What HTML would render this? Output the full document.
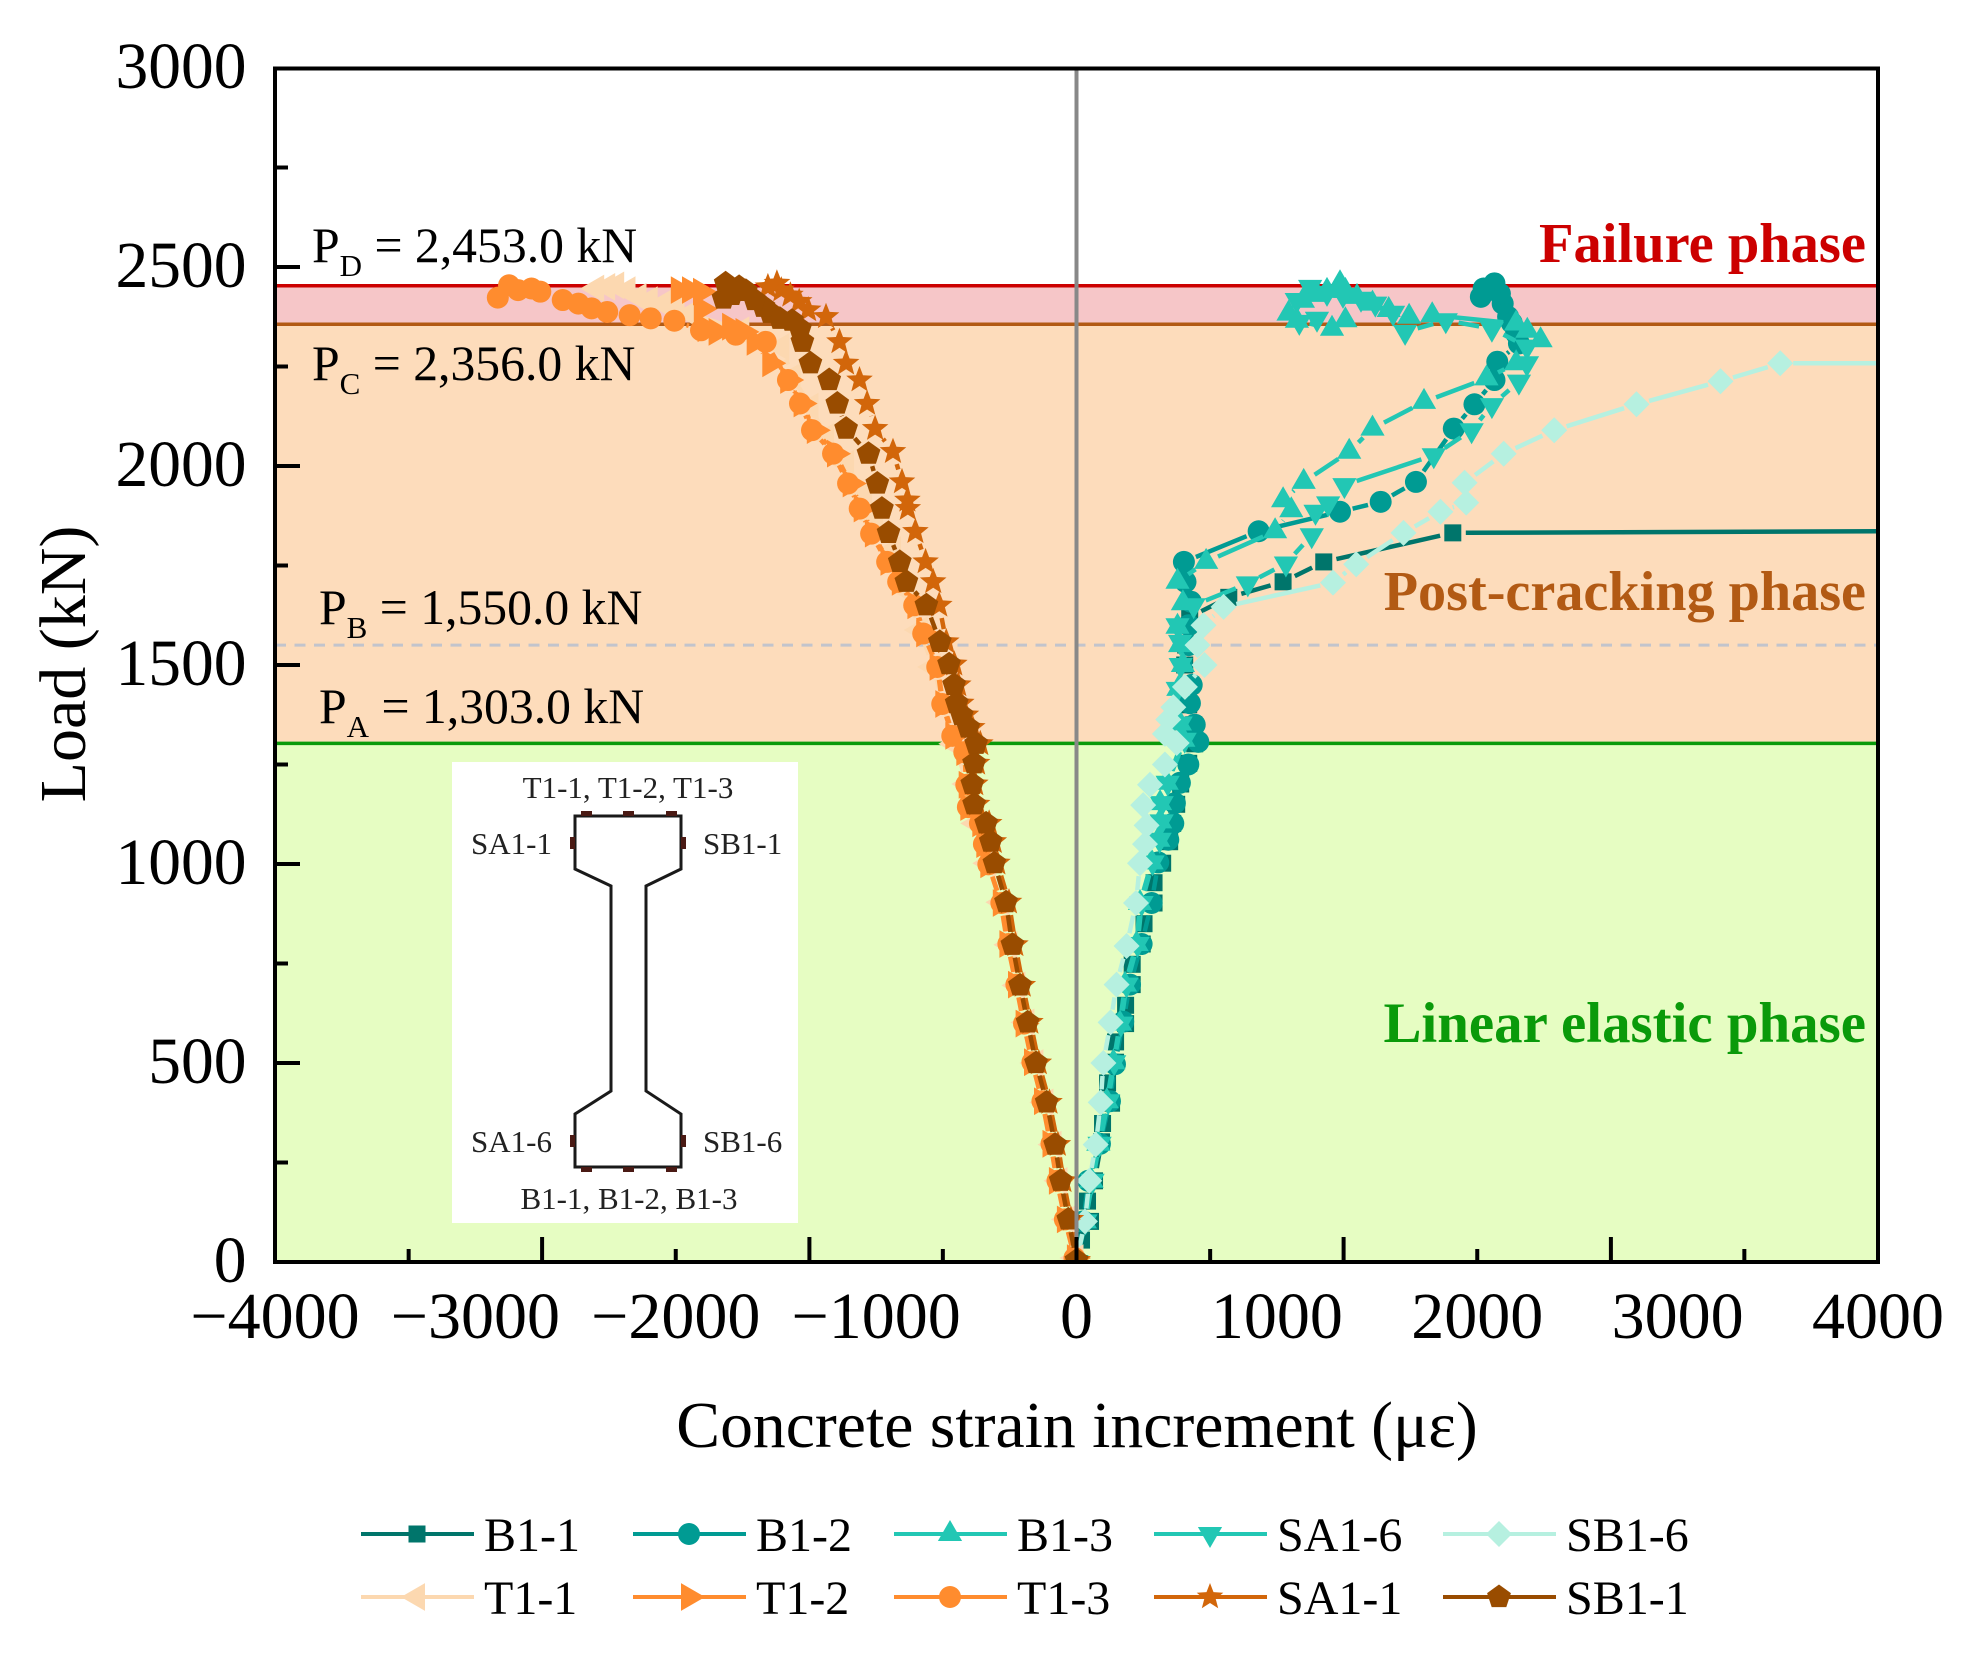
<!DOCTYPE html>
<html lang="en">
<head>
<meta charset="utf-8">
<title>Concrete strain increment vs load</title>
<style>
html,body{margin:0;padding:0;background:#fff;}
svg{display:block;font-family:"Liberation Serif",serif;}
</style>
</head>
<body>
<svg id="chart" xmlns="http://www.w3.org/2000/svg" width="1964" height="1654" viewBox="0 0 1964 1654">
  <defs>
    <clipPath id="plot-clip"><rect x="275" y="68" width="1603" height="1194"/></clipPath>
  </defs>
  <rect x="0" y="0" width="1964" height="1654" fill="#ffffff"/>
  <g id="bands"></g>
  <g id="series-layer" clip-path="url(#plot-clip)"></g>
  <g id="axes"></g>

  <g font-size="49.7" fill="#000">
    <text x="312" y="262">P<tspan font-size="31" dy="14">D</tspan><tspan dy="-14"> = 2,453.0 kN</tspan></text>
    <text x="312" y="380">P<tspan font-size="31" dy="14">C</tspan><tspan dy="-14"> = 2,356.0 kN</tspan></text>
    <text x="319" y="624">P<tspan font-size="31" dy="14">B</tspan><tspan dy="-14"> = 1,550.0 kN</tspan></text>
    <text x="319" y="723">P<tspan font-size="31" dy="14">A</tspan><tspan dy="-14"> = 1,303.0 kN</tspan></text>
  </g>

  <g font-size="56.5" font-weight="bold" text-anchor="end">
    <text x="1866" y="262" fill="#CC0000">Failure phase</text>
    <text x="1866" y="610" fill="#B25A14" font-size="56.2">Post-cracking phase</text>
    <text x="1866" y="1042" fill="#0A9A0A" font-size="56.9">Linear elastic phase</text>
  </g>

  <g>
    <rect x="452" y="762" width="346" height="461" fill="#ffffff"/>
    <polygon points="575,816 681,816 681,869 646,886 646,1091 681,1114 681,1167 575,1167 575,1114 611,1091 611,886 575,869" fill="#ffffff" stroke="#1a1a1a" stroke-width="3"/>
    <g fill="#4a1a14">
      <rect x="581" y="811" width="11" height="5"/>
      <rect x="623" y="811" width="11" height="5"/>
      <rect x="666" y="811" width="11" height="5"/>
      <rect x="581" y="1167" width="11" height="5"/>
      <rect x="623" y="1167" width="11" height="5"/>
      <rect x="666" y="1167" width="11" height="5"/>
      <rect x="570" y="837" width="5" height="12"/>
      <rect x="681" y="837" width="5" height="12"/>
      <rect x="570" y="1135" width="5" height="12"/>
      <rect x="681" y="1135" width="5" height="12"/>
    </g>
    <g font-size="31" fill="#222">
      <text x="628" y="798" text-anchor="middle">T1-1, T1-2, T1-3</text>
      <text x="552" y="854" text-anchor="end">SA1-1</text>
      <text x="703" y="854">SB1-1</text>
      <text x="552" y="1152" text-anchor="end">SA1-6</text>
      <text x="703" y="1152">SB1-6</text>
      <text x="629" y="1209" text-anchor="middle">B1-1, B1-2, B1-3</text>
    </g>
  </g>

  <text x="1077" y="1447" font-size="65.7" text-anchor="middle">Concrete strain increment (με)</text>
  <text x="0" y="0" font-size="66" text-anchor="middle" transform="translate(85 664) rotate(-90)">Load (kN)</text>
  <g id="legend"></g>
</svg>

<script>
// ---- Axis data ----
const xTickLabels = [-4000, -3000, -2000, -1000, 0, 1000, 2000, 3000, 4000];
const yTickLabels = [0, 500, 1000, 1500, 2000, 2500, 3000];
const xMajorTicks = [-4000, -2667, -1333, 0, 1333, 2667, 4000];
const xMinorTicks = [-3333, -2000, -667, 667, 2000, 3333];
const yMinorTicks = [250, 750, 1250, 1750, 2250, 2750];

// ---- Phase thresholds (kN) ----
const thresholdPA = 1303;
const thresholdPB = 1550;
const thresholdPC = 2356;
const thresholdPD = 2453;

// ---- Series values: [strain increment, load] ----
const seriesB11 = [[0,0],[25,55],[70,102],[55,153],[90,204],[125,302],[130,348],[175,399],[155,450],[195,502],[195,553],[245,599],[245,645],[278,697],[278,748],[328,799],[337,850],[387,902],[387,953],[430,1002],[465,1056],[480,1102],[500,1150],[520,1201],[560,1253],[590,1302],[585,1350],[560,1400],[570,1450],[540,1500],[545,1550],[565,1620],[760,1670],[1031,1709],[1234,1759],[1878,1832],[5000,1838]];
const seriesB12 = [[0,0],[34,102],[59,204],[117,297],[167,404],[192,497],[233,604],[267,697],[325,799],[375,902],[408,1004],[458,1061],[483,1102],[491,1153],[516,1204],[558,1250],[608,1307],[590,1350],[566,1404],[575,1450],[560,1550],[560,1600],[571,1659],[544,1709],[536,1759],[909,1836],[1315,1885],[1518,1910],[1694,1960],[1883,2094],[1986,2155],[2086,2216],[2100,2262],[2208,2308],[2194,2333],[2172,2360],[2154,2375],[2127,2408],[2113,2433],[2086,2459],[2032,2446],[2018,2425]];
const seriesB13 = [[0,0],[42,102],[75,204],[109,297],[151,404],[184,502],[217,599],[242,697],[300,799],[317,902],[375,1004],[408,1061],[417,1107],[417,1153],[450,1204],[533,1312],[516,1353],[508,1440],[531,1500],[517,1550],[504,1596],[531,1655],[504,1709],[647,1759],[991,1836],[1072,1889],[1031,1914],[1134,1960],[1361,2036],[1477,2094],[1734,2161],[2046,2220],[2194,2258],[2316,2316],[2250,2340],[2194,2358],[1775,2379],[1660,2375],[1558,2392],[1477,2408],[1400,2425],[1342,2440],[1315,2459],[1250,2440],[1200,2430],[1130,2415],[1058,2383],[1100,2365],[1275,2345],[1342,2366]];
const seriesSA16 = [[0,0],[45,102],[80,204],[115,297],[158,404],[188,502],[222,599],[250,697],[305,799],[325,902],[380,1004],[415,1061],[425,1107],[425,1153],[455,1204],[540,1312],[520,1353],[505,1440],[520,1500],[517,1558],[504,1600],[585,1650],[855,1705],[1045,1755],[1174,1826],[1193,1885],[1256,1906],[1337,1952],[1783,2027],[1972,2090],[2073,2153],[2208,2212],[2248,2258],[2248,2300],[2073,2345],[1843,2366],[1640,2337],[1580,2385],[1491,2408],[1420,2420],[1330,2430],[1250,2435],[1166,2450],[1099,2417],[1112,2362],[1200,2370]];
const seriesSB16 = [[0,0],[42,102],[64,204],[96,295],[121,401],[134,500],[170,602],[200,697],[250,794],[297,902],[317,1002],[342,1050],[350,1097],[333,1148],[367,1199],[441,1250],[500,1304],[441,1327],[458,1363],[483,1394],[541,1445],[639,1500],[604,1550],[634,1600],[734,1646],[1280,1707],[1396,1753],[1632,1832],[1816,1885],[1945,1908],[1937,1958],[2132,2031],[2384,2090],[2795,2155],[3214,2213],[3512,2258],[5000,2258]];
const seriesT11 = [[-5,10],[-48,107],[-85,204],[-115,295],[-155,401],[-205,500],[-250,602],[-295,695],[-335,797],[-375,904],[-440,1002],[-500,1102],[-545,1201],[-610,1302],[-715,1495],[-782,1588],[-849,1688],[-916,1789],[-1005,1864],[-1060,1931],[-1150,2006],[-1250,2073],[-1328,2149],[-1417,2224],[-1473,2299],[-1673,2341],[-1929,2383],[-1996,2396],[-2063,2408],[-2130,2417],[-2186,2425],[-2241,2442],[-2297,2454],[-2342,2450],[-2397,2446]];
const seriesT12 = [[-8,10],[-58,107],[-98,204],[-130,297],[-172,404],[-222,502],[-264,599],[-302,697],[-345,799],[-378,902],[-440,999],[-460,1050],[-480,1102],[-540,1143],[-548,1199],[-560,1281],[-615,1322],[-665,1402],[-693,1495],[-760,1579],[-804,1650],[-882,1709],[-938,1759],[-1016,1830],[-1072,1893],[-1127,1956],[-1205,2031],[-1306,2090],[-1372,2157],[-1439,2216],[-1528,2258],[-1606,2312],[-1662,2337],[-1729,2350],[-1796,2337],[-1851,2346],[-1870,2395],[-1874,2438],[-1929,2442],[-1985,2442]];
const seriesT13 = [[-10,10],[-58,107],[-95,204],[-125,297],[-170,404],[-220,502],[-262,599],[-300,697],[-340,799],[-375,902],[-440,999],[-462,1050],[-482,1102],[-542,1143],[-550,1199],[-560,1281],[-620,1322],[-670,1402],[-695,1495],[-765,1579],[-810,1650],[-890,1709],[-945,1759],[-1025,1830],[-1082,1893],[-1140,1956],[-1215,2031],[-1320,2090],[-1380,2157],[-1440,2216],[-1551,2312],[-1700,2330],[-1874,2341],[-2007,2365],[-2125,2371],[-2230,2379],[-2342,2387],[-2420,2396],[-2486,2408],[-2564,2417],[-2676,2438],[-2720,2446],[-2787,2442],[-2832,2454],[-2888,2423]];
const seriesSA11 = [[6,4],[-28,107],[-65,204],[-93,295],[-135,401],[-188,500],[-230,602],[-268,695],[-305,797],[-337,904],[-395,1002],[-413,1056],[-436,1102],[-496,1150],[-505,1201],[-496,1253],[-480,1302],[-520,1343],[-552,1374],[-575,1404],[-590,1450],[-610,1502],[-650,1558],[-685,1650],[-715,1709],[-753,1759],[-804,1835],[-842,1893],[-844,1914],[-871,1960],[-916,2036],[-1005,2094],[-1045,2157],[-1083,2216],[-1150,2258],[-1183,2312],[-1250,2375],[-1339,2392],[-1384,2413],[-1428,2429],[-1473,2442],[-1495,2459],[-1540,2450]];
const seriesSB11 = [[0,4],[-41,107],[-79,204],[-107,295],[-149,401],[-202,500],[-244,602],[-282,695],[-320,797],[-352,904],[-410,1002],[-428,1056],[-451,1102],[-511,1150],[-520,1201],[-511,1253],[-501,1302],[-540,1343],[-573,1374],[-598,1404],[-611,1450],[-636,1502],[-682,1558],[-749,1650],[-849,1709],[-882,1759],[-938,1832],[-971,1893],[-994,1956],[-1038,2031],[-1150,2094],[-1194,2157],[-1234,2216],[-1328,2258],[-1368,2312],[-1380,2345],[-1420,2365],[-1480,2370],[-1528,2385],[-1562,2400],[-1606,2417],[-1650,2440],[-1684,2450],[-1751,2459],[-1762,2421],[-1720,2430]];

const seriesNames = ['B1-1','B1-2','B1-3','SA1-6','SB1-6','T1-1','T1-2','T1-3','SA1-1','SB1-1'];
const seriesValues = [seriesB11,seriesB12,seriesB13,seriesSA16,seriesSB16,seriesT11,seriesT12,seriesT13,seriesSA11,seriesSB11];
const seriesColors = ['#00756B','#009B93','#22C7B4','#22C7B4','#B6F0E0','#FCD8B0','#FF8C2E','#FF8C2E','#D2660A','#994C00'];
const seriesMarkers = ['square','circle','up','down','diamond','left','right','circle','star','pentagon'];

// ---- Axis functions ----
const PLOT_LEFT = 275, PLOT_RIGHT = 1878, PLOT_TOP = 68.5, PLOT_BOTTOM = 1262;
function xScale(v){ return 1076.5 + v * (PLOT_RIGHT - PLOT_LEFT) / 8000; }
function yScale(v){ return PLOT_BOTTOM - v * (PLOT_BOTTOM - 68) / 3000; }

const NS = 'http://www.w3.org/2000/svg';
function make(tag, attrs, parent){
  const el = document.createElementNS(NS, tag);
  for (const k in attrs) el.setAttribute(k, attrs[k]);
  parent.appendChild(el);
  return el;
}

// ---- Bands ----
const bands = document.getElementById('bands');
function band(name, top, bottom, fill){
  const r = make('rect', {x:PLOT_LEFT, y:yScale(top), width:PLOT_RIGHT-PLOT_LEFT, height:yScale(bottom)-yScale(top), fill:fill}, bands);
  
  
}
band('failure-phase-band', thresholdPD, thresholdPC, '#F6C6C8');
band('post-cracking-phase-band', thresholdPC, thresholdPA, '#FDDCBB');
band('linear-elastic-phase-band', thresholdPA, 0, '#E6FDC2');

function hline(name, val, color, width, dash){
  const l = make('line', {x1:PLOT_LEFT, x2:PLOT_RIGHT, y1:yScale(val), y2:yScale(val), stroke:color, 'stroke-width':width}, bands);
  if (dash) l.setAttribute('stroke-dasharray', dash);
  
  
}
hline('pd-line', thresholdPD, '#CC0000', 3.5);
hline('pc-line', thresholdPC, '#B25A14', 3.5);
hline('pa-line', thresholdPA, '#0A9A0A', 3.5);
hline('pb-line', thresholdPB, '#C2C4CC', 3, '11 8.5');

// ---- Markers ----
function regular(cx, cy, r, n, startDeg){
  const pts = [];
  for (let i = 0; i < n; i++){
    const a = (startDeg + i * 360 / n) * Math.PI / 180;
    pts.push((cx + r * Math.cos(a)).toFixed(1) + ',' + (cy + r * Math.sin(a)).toFixed(1));
  }
  return pts.join(' ');
}
function starPoints(cx, cy, R, r){
  const pts = [];
  for (let i = 0; i < 10; i++){
    const rad = i % 2 ? r : R;
    const a = (-90 + i * 36) * Math.PI / 180;
    pts.push((cx + rad * Math.cos(a)).toFixed(1) + ',' + (cy + rad * Math.sin(a)).toFixed(1));
  }
  return pts.join(' ');
}
function drawMarker(parent, kind, cx, cy, color){
  let el;
  if (kind === 'square') el = make('rect', {x:cx-8.5, y:cy-8.5, width:17, height:17}, parent);
  else if (kind === 'circle') el = make('circle', {cx:cx, cy:cy, r:11}, parent);
  else if (kind === 'up') el = make('polygon', {points:regular(cx, cy, 14, 3, -90)}, parent);
  else if (kind === 'down') el = make('polygon', {points:regular(cx, cy, 14, 3, 90)}, parent);
  else if (kind === 'left') el = make('polygon', {points:regular(cx, cy, 16, 3, 180)}, parent);
  else if (kind === 'right') el = make('polygon', {points:regular(cx, cy, 16, 3, 0)}, parent);
  else if (kind === 'diamond') el = make('polygon', {points:regular(cx, cy, 13, 4, 0)}, parent);
  else if (kind === 'pentagon') el = make('polygon', {points:regular(cx, cy, 12.5, 5, -90)}, parent);
  else el = make('polygon', {points:starPoints(cx, cy, 14, 6)}, parent);
  el.setAttribute('fill', color);
  return el;
}

// ---- Series ----
const layer = document.getElementById('series-layer');
const LINE_GAP = 13;
seriesValues.forEach(function(values, idx){
  const key = seriesNames[idx].toLowerCase();
  const color = seriesColors[idx];
  const group = make('g', {}, layer);
  
  
  let d = '';
  for (let i = 0; i < values.length - 1; i++){
    const x1 = xScale(values[i][0]), y1 = yScale(values[i][1]);
    const x2 = xScale(values[i+1][0]), y2 = yScale(values[i+1][1]);
    const len = Math.hypot(x2 - x1, y2 - y1);
    if (len <= LINE_GAP * 2) continue;
    const ux = (x2 - x1) / len, uy = (y2 - y1) / len;
    d += 'M' + (x1 + ux * LINE_GAP).toFixed(1) + ' ' + (y1 + uy * LINE_GAP).toFixed(1) +
         'L' + (x2 - ux * LINE_GAP).toFixed(1) + ' ' + (y2 - uy * LINE_GAP).toFixed(1);
  }
  const line = make('path', {d:d, fill:'none', stroke:color, 'stroke-width':4.5}, group);
  
  
  values.forEach(function(p){
    const m = drawMarker(group, seriesMarkers[idx], xScale(p[0]), yScale(p[1]), color);
    
    
  });
});

// ---- Axes ----
const axes = document.getElementById('axes');
const zeroLine = make('line', {x1:xScale(0), x2:xScale(0), y1:PLOT_TOP, y2:PLOT_BOTTOM, stroke:'#888888', 'stroke-width':4}, axes);



const frame = make('rect', {x:PLOT_LEFT, y:PLOT_TOP, width:PLOT_RIGHT-PLOT_LEFT, height:PLOT_BOTTOM-PLOT_TOP, fill:'none', stroke:'#000', 'stroke-width':4}, axes);



xMajorTicks.forEach(function(v){
  const t = make('line', {x1:xScale(v), x2:xScale(v), y1:PLOT_BOTTOM, y2:PLOT_BOTTOM-25, stroke:'#000', 'stroke-width':4}, axes);
  
  
});
xMinorTicks.forEach(function(v){
  const t = make('line', {x1:xScale(v), x2:xScale(v), y1:PLOT_BOTTOM, y2:PLOT_BOTTOM-13, stroke:'#000', 'stroke-width':4}, axes);
  
  
});
yTickLabels.forEach(function(v){
  if (v < 3000) {
    const t = make('line', {x1:PLOT_LEFT, x2:PLOT_LEFT+25, y1:yScale(v), y2:yScale(v), stroke:'#000', 'stroke-width':4}, axes);
    
    
  }
  const label = make('text', {x:246.5, y:yScale(v)+20, 'font-size':65.5, 'text-anchor':'end', fill:'#000'}, axes);
  label.textContent = String(v);
  
  
});
yMinorTicks.forEach(function(v){
  const t = make('line', {x1:PLOT_LEFT, x2:PLOT_LEFT+13, y1:yScale(v), y2:yScale(v), stroke:'#000', 'stroke-width':4}, axes);
  
  
});
xTickLabels.forEach(function(v){
  const label = make('text', {x:xScale(v), y:1338, 'font-size':66, 'text-anchor':'middle', fill:'#000'}, axes);
  label.textContent = v < 0 ? '\u2212' + Math.abs(v) : String(v);
  
  
});

// ---- Legend ----
const legend = document.getElementById('legend');
const legendColumnsX = [361, 633, 894, 1154, 1443];
const legendRowsY = [1534, 1597];
seriesNames.forEach(function(name, idx){
  const col = idx % 5, row = Math.floor(idx / 5);
  const lx = legendColumnsX[col], ly = legendRowsY[row];
  const entry = make('g', {}, legend);
  
  
  make('line', {x1:lx, x2:lx+113, y1:ly, y2:ly, stroke:seriesColors[idx], 'stroke-width':4}, entry);
  drawMarker(entry, seriesMarkers[idx], lx+56, ly, seriesColors[idx]);
  const text = make('text', {x:lx+123, y:ly+17, 'font-size':48, fill:'#000'}, entry);
  text.textContent = name;
});
</script>
</body>
</html>
